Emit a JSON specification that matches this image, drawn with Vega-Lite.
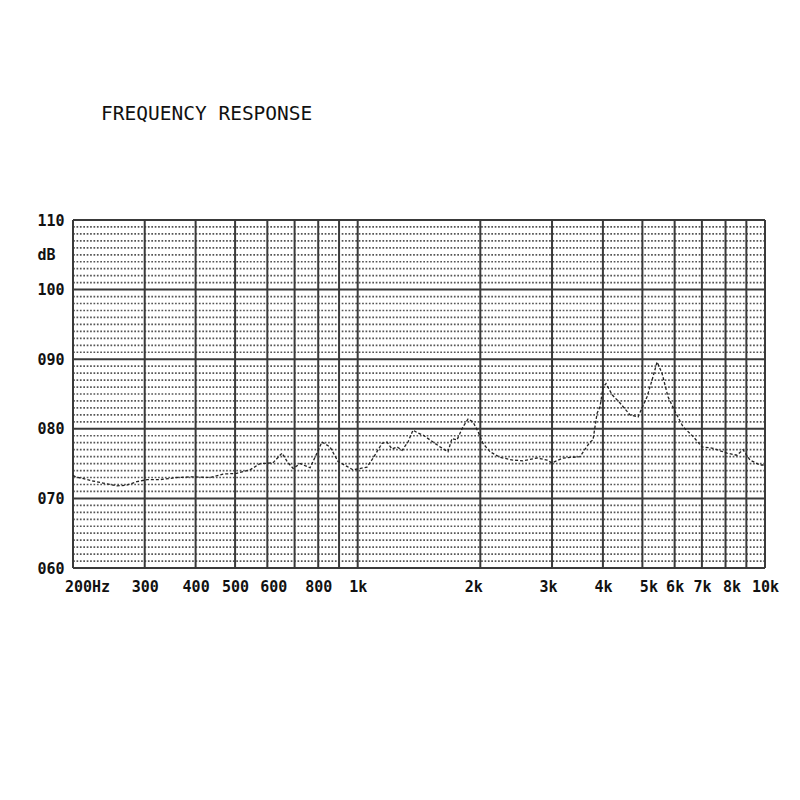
{
  "$schema": "https://vega.github.io/schema/vega-lite/v6.json",
  "autosize": {"type": "none"},
  "width": 692,
  "height": 348,
  "padding": {"left": 73, "top": 220, "right": 35, "bottom": 232},
  "background": "white",
  "config": {"view": {"stroke": null}},
  "title": {
    "text": "FREQUENCY RESPONSE",
    "anchor": "start",
    "frame": "group",
    "dx": 28,
    "offset": 89,
    "font": "DejaVu Sans Mono",
    "fontSize": 19.5,
    "fontWeight": "normal",
    "color": "#111"
  },
  "datasets": {
    "curve": [
      {"f": 200, "db": 73.3}, {"f": 203, "db": 73.1}, {"f": 224, "db": 72.5}, {"f": 237, "db": 72.2},
      {"f": 256, "db": 71.8}, {"f": 271, "db": 71.9}, {"f": 287, "db": 72.4}, {"f": 304, "db": 72.7},
      {"f": 327, "db": 72.7}, {"f": 360, "db": 73.0}, {"f": 394, "db": 73.1}, {"f": 434, "db": 73.0},
      {"f": 467, "db": 73.5}, {"f": 505, "db": 73.6}, {"f": 544, "db": 74.1}, {"f": 576, "db": 75.0},
      {"f": 619, "db": 75.1}, {"f": 652, "db": 76.5}, {"f": 671, "db": 75.3}, {"f": 694, "db": 74.3},
      {"f": 722, "db": 75.0}, {"f": 764, "db": 74.4}, {"f": 794, "db": 76.5}, {"f": 817, "db": 78.1},
      {"f": 855, "db": 77.4}, {"f": 895, "db": 75.3}, {"f": 941, "db": 74.6}, {"f": 974, "db": 74.1},
      {"f": 1054, "db": 74.5}, {"f": 1091, "db": 75.8}, {"f": 1147, "db": 77.9}, {"f": 1180, "db": 78.1},
      {"f": 1214, "db": 77.1}, {"f": 1249, "db": 77.4}, {"f": 1285, "db": 76.9}, {"f": 1329, "db": 78.1},
      {"f": 1367, "db": 79.8}, {"f": 1406, "db": 79.4}, {"f": 1447, "db": 79.1}, {"f": 1531, "db": 78.1},
      {"f": 1593, "db": 77.4}, {"f": 1666, "db": 76.7}, {"f": 1704, "db": 78.6}, {"f": 1753, "db": 78.4},
      {"f": 1814, "db": 80.3}, {"f": 1866, "db": 81.4}, {"f": 1919, "db": 81.0}, {"f": 1974, "db": 79.6},
      {"f": 2031, "db": 77.9}, {"f": 2113, "db": 76.7}, {"f": 2236, "db": 75.9}, {"f": 2406, "db": 75.5},
      {"f": 2546, "db": 75.4}, {"f": 2756, "db": 75.8}, {"f": 2917, "db": 75.5}, {"f": 3000, "db": 75.1},
      {"f": 3192, "db": 75.8}, {"f": 3514, "db": 76.0}, {"f": 3718, "db": 78.1}, {"f": 3782, "db": 78.4},
      {"f": 3869, "db": 82.2}, {"f": 3936, "db": 83.2}, {"f": 4003, "db": 86.0}, {"f": 4071, "db": 86.5},
      {"f": 4212, "db": 84.9}, {"f": 4406, "db": 83.7}, {"f": 4663, "db": 82.0}, {"f": 4879, "db": 81.7},
      {"f": 5133, "db": 84.6}, {"f": 5281, "db": 87.0}, {"f": 5432, "db": 89.6}, {"f": 5586, "db": 88.0},
      {"f": 5779, "db": 84.6}, {"f": 6012, "db": 82.5}, {"f": 6291, "db": 80.3}, {"f": 6658, "db": 78.9},
      {"f": 7006, "db": 77.4}, {"f": 7454, "db": 77.2}, {"f": 8068, "db": 76.5}, {"f": 8537, "db": 76.2},
      {"f": 8832, "db": 77.0}, {"f": 9187, "db": 75.5}, {"f": 9722, "db": 74.8}, {"f": 10000, "db": 74.8}
    ],
    "hminor": [
      {"db": 61}, {"db": 62}, {"db": 63}, {"db": 64}, {"db": 65}, {"db": 66}, {"db": 67}, {"db": 68}, {"db": 69},
      {"db": 71}, {"db": 72}, {"db": 73}, {"db": 74}, {"db": 75}, {"db": 76}, {"db": 77}, {"db": 78}, {"db": 79},
      {"db": 81}, {"db": 82}, {"db": 83}, {"db": 84}, {"db": 85}, {"db": 86}, {"db": 87}, {"db": 88}, {"db": 89},
      {"db": 91}, {"db": 92}, {"db": 93}, {"db": 94}, {"db": 95}, {"db": 96}, {"db": 97}, {"db": 98}, {"db": 99},
      {"db": 101}, {"db": 102}, {"db": 103}, {"db": 104}, {"db": 105}, {"db": 106}, {"db": 107}, {"db": 108}, {"db": 109}
    ],
    "hmajor": [{"db": 60}, {"db": 70}, {"db": 80}, {"db": 90}, {"db": 100}, {"db": 110}],
    "vlines": [
      {"f": 200}, {"f": 300}, {"f": 400}, {"f": 500}, {"f": 600}, {"f": 700}, {"f": 800}, {"f": 900},
      {"f": 1000}, {"f": 2000}, {"f": 3000}, {"f": 4000}, {"f": 5000}, {"f": 6000}, {"f": 7000},
      {"f": 8000}, {"f": 9000}, {"f": 10000}
    ]
  },
  "layer": [
    {
      "data": {"name": "hminor"},
      "mark": {"type": "rule", "color": "#555", "strokeWidth": 1.7, "strokeDash": [1.7, 1.7]},
      "encoding": {
        "y": {
          "field": "db", "type": "quantitative",
          "scale": {"domain": [60, 110], "nice": false, "zero": false},
          "axis": {
            "title": null,
            "values": [60, 70, 80, 90, 100, 105, 110],
            "labelExpr": "datum.value == 105 ? 'dB' : (datum.value < 100 ? '0' + datum.value : '' + datum.value)",
            "grid": false, "domain": false, "ticks": false,
            "labelFont": "DejaVu Sans Mono", "labelFontSize": 15, "labelFontWeight": "bold", "labelColor": "#111",
            "labelAlign": "left", "labelPadding": 36, "labelBaseline": "middle", "labelOverlap": false, "labelFlush": false
          }
        }
      }
    },
    {
      "data": {"name": "hmajor"},
      "mark": {"type": "rule", "color": "#3a3a3a", "strokeWidth": 2},
      "encoding": {
        "y": {"field": "db", "type": "quantitative"}
      }
    },
    {
      "data": {"name": "vlines"},
      "mark": {"type": "rule", "color": "#3a3a3a", "strokeWidth": 2},
      "encoding": {
        "x": {
          "field": "f", "type": "quantitative",
          "scale": {"type": "log", "domain": [200, 10000], "nice": false},
          "axis": {
            "title": null,
            "values": [200, 300, 400, 500, 600, 800, 1000, 2000, 3000, 4000, 5000, 6000, 7000, 8000, 10000],
            "labelExpr": "datum.value == 200 ? '200Hz' : (datum.value >= 1000 ? (datum.value / 1000) + 'k' : '' + datum.value)",
            "grid": false, "domain": false, "ticks": false,
            "labelFont": "DejaVu Sans Mono", "labelFontSize": 15, "labelFontWeight": "bold", "labelColor": "#111",
            "labelPadding": 11, "labelOverlap": false, "labelFlush": false,
            "labelOffset": {"condition": [
              {"test": "datum.value == 200", "value": 14},
              {"test": "datum.value == 600", "value": 6},
              {"test": "datum.value == 2000", "value": -7},
              {"test": "datum.value == 3000", "value": -4},
              {"test": "datum.value == 5000", "value": 6},
              {"test": "datum.value == 8000", "value": 6}
            ], "value": 0}
          }
        }
      }
    },
    {
      "data": {"name": "curve"},
      "mark": {"type": "line", "color": "#222", "strokeWidth": 1.3, "strokeDash": [3, 2]},
      "encoding": {
        "x": {"field": "f", "type": "quantitative"},
        "y": {"field": "db", "type": "quantitative"}
      }
    }
  ]
}
